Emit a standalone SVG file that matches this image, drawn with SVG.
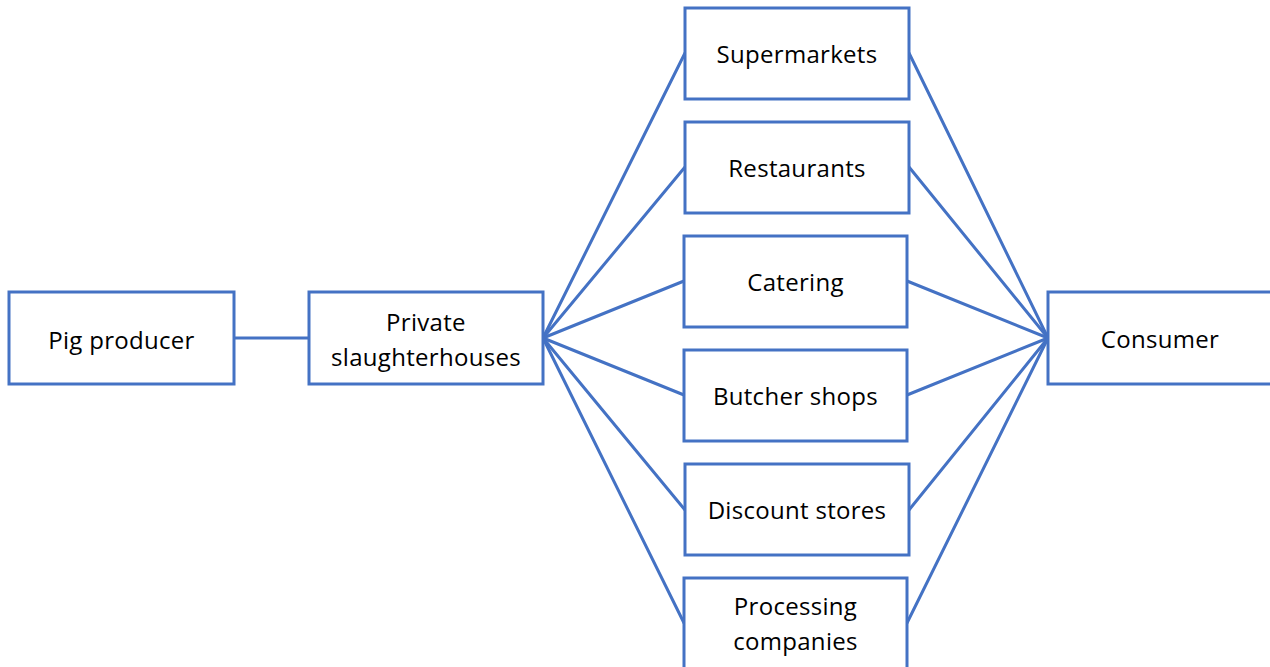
<svg xmlns="http://www.w3.org/2000/svg" width="1270" height="667" viewBox="0 0 1270 667">
<style>
.box{fill:#fff;stroke:#4472C4;stroke-width:3}
.lbl{font-family:"Open Sans","Liberation Sans",sans-serif;font-size:24px;letter-spacing:0.3px;fill:#000;text-anchor:middle;dominant-baseline:central}
.con line{stroke:#4472C4;stroke-width:3;stroke-linecap:round}
</style>
<rect width="1270" height="667" fill="#fff"/>
<g class="con" id="connectors">
<line x1="234" y1="338" x2="309" y2="338"/>
<line x1="543" y1="338" x2="685" y2="53"/>
<line x1="543" y1="338" x2="685" y2="167"/>
<line x1="543" y1="338" x2="684" y2="281"/>
<line x1="543" y1="338" x2="684" y2="395"/>
<line x1="543" y1="338" x2="685" y2="510"/>
<line x1="543" y1="338" x2="684" y2="623"/>
<line x1="909" y1="53" x2="1048" y2="338"/>
<line x1="909" y1="167" x2="1048" y2="338"/>
<line x1="907" y1="281" x2="1048" y2="338"/>
<line x1="907" y1="395" x2="1048" y2="338"/>
<line x1="909" y1="510" x2="1048" y2="338"/>
<line x1="907" y1="623" x2="1048" y2="338"/>
</g>
<g id="pig-producer"><rect class="box" x="9" y="292" width="225" height="92"/><text class="lbl" x="121.5" y="339">Pig producer</text></g>
<g id="private-slaughterhouses"><rect class="box" x="309" y="292" width="234" height="92"/><text class="lbl" x="426" y="321">Private</text><text class="lbl" x="426" y="356">slaughterhouses</text></g>
<g id="supermarkets"><rect class="box" x="685" y="8" width="224" height="91"/><text class="lbl" x="797" y="53">Supermarkets</text></g>
<g id="restaurants"><rect class="box" x="685" y="122" width="224" height="91"/><text class="lbl" x="797" y="167">Restaurants</text></g>
<g id="catering"><rect class="box" x="684" y="236" width="223" height="91"/><text class="lbl" x="795.5" y="281">Catering</text></g>
<g id="butcher-shops"><rect class="box" x="684" y="350" width="223" height="91"/><text class="lbl" x="795.5" y="395">Butcher shops</text></g>
<g id="discount-stores"><rect class="box" x="685" y="464" width="224" height="91"/><text class="lbl" x="797" y="509">Discount stores</text></g>
<g id="processing-companies"><rect class="box" x="684" y="578" width="223" height="100"/><text class="lbl" x="795.5" y="605">Processing</text><text class="lbl" x="795.5" y="640">companies</text></g>
<g id="consumer"><rect class="box" x="1048" y="292" width="230" height="92"/><text class="lbl" x="1160" y="338">Consumer</text></g>
</svg>
